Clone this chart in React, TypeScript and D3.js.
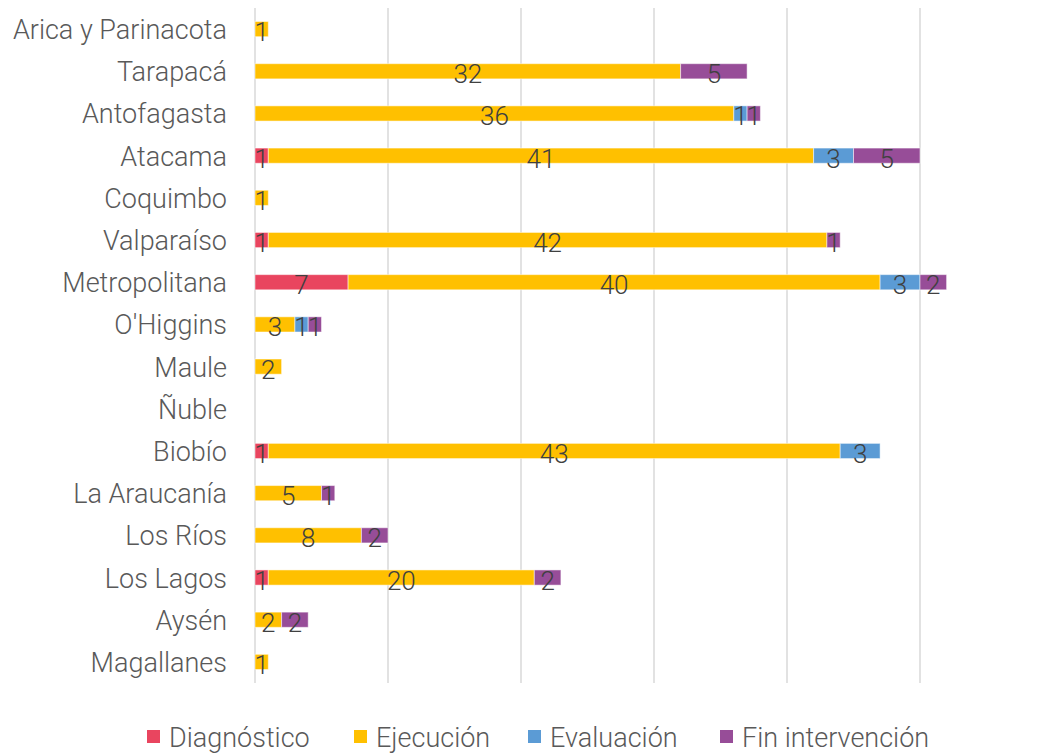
import React from "react";
import * as d3 from "d3";

const categories = [
  "Arica y Parinacota", "Tarapacá", "Antofagasta", "Atacama", "Coquimbo", "Valparaíso",
  "Metropolitana", "O'Higgins", "Maule", "Ñuble", "Biobío", "La Araucanía", "Los Ríos",
  "Los Lagos", "Aysén", "Magallanes",
];
const seriesNames = ["Diagnóstico", "Ejecución", "Evaluación", "Fin intervención"];
const diagnostico = [0, 0, 0, 1, 0, 1, 7, 0, 0, 0, 1, 0, 0, 1, 0, 0];
const ejecucion = [1, 32, 36, 41, 1, 42, 40, 3, 2, 0, 43, 5, 8, 20, 2, 1];
const evaluacion = [0, 0, 1, 3, 0, 0, 3, 1, 0, 0, 3, 0, 0, 0, 0, 0];
const finIntervencion = [0, 5, 1, 5, 0, 1, 2, 1, 0, 0, 0, 1, 2, 2, 2, 0];
const colors = ["#E9455F", "#FFC000", "#5B9BD5", "#974D98"];
const gridTicks = [0, 10, 20, 30, 40, 50];

export default function App() {
  const W = 1049, H = 753;
  const left = 255, right = 920, top = 8, bottom = 683;
  const x = d3.scaleLinear().domain([0, 50]).range([left, right]);
  const y = d3.scaleBand().domain(categories).range([top, bottom]).paddingInner(0.64).paddingOuter(0.32);
  const series = [diagnostico, ejecucion, evaluacion, finIntervencion];
  const rows = categories.map((c, i) => {
    const obj: any = { cat: c };
    seriesNames.forEach((s, k) => (obj[s] = series[k][i]));
    return obj;
  });
  const stacked = d3.stack().keys(seriesNames)(rows);
  const font = "Roboto, 'Open Sans', sans-serif";
  const legendX = [147, 354, 528, 720];
  return (
    <svg width={W} height={H} style={{ position: "absolute", left: 0, top: 0, background: "#fff" }}>
      {gridTicks.map((t) => (
        <line key={t} x1={x(t)} x2={x(t)} y1={top} y2={bottom} stroke="#D9D9D9" strokeWidth={1.5} />
      ))}
      {stacked.map((layer, k) => (
        <g key={layer.key}>
          {layer.map((d, i) => {
            const v = d[1] - d[0];
            if (v <= 0) return null;
            const yy = y(categories[i])!;
            return (
              <g key={i}>
                <rect x={x(d[0])} y={yy} width={x(d[1]) - x(d[0])} height={y.bandwidth()}
                  fill={colors[k]} stroke="#fff" strokeOpacity={0.5} strokeWidth={1} />
                <text x={(x(d[0]) + x(d[1])) / 2} y={yy + y.bandwidth() / 2 + 3} textAnchor="middle"
                  dominantBaseline="central" fontFamily={font} fontWeight={300} fontSize={26} fill="#404040">{v}</text>
              </g>
            );
          })}
        </g>
      ))}
      {categories.map((c) => (
        <text key={c} x={227} y={y(c)! + y.bandwidth() / 2 + 1} textAnchor="end" dominantBaseline="central"
          fontFamily={font} fontWeight={300} fontSize={27} fill="#595959">{c}</text>
      ))}
      {seriesNames.map((s, k) => (
        <g key={s}>
          <rect x={legendX[k]} y={730} width={13} height={13} fill={colors[k]} />
          <text x={legendX[k] + 22} y={738} dominantBaseline="central" fontFamily={font} fontWeight={300} fontSize={27} fill="#595959">{s}</text>
        </g>
      ))}
    </svg>
  );
}
